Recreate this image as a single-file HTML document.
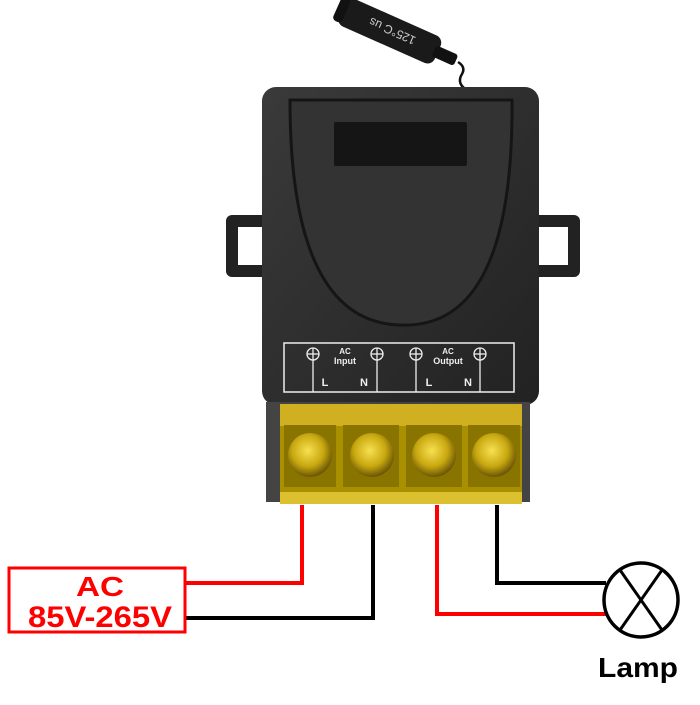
<!DOCTYPE html>
<html><head><meta charset="utf-8"><style>
body{margin:0;background:#fff;width:700px;height:700px;overflow:hidden}
</style></head><body>
<svg width="700" height="700" viewBox="0 0 700 700" xmlns="http://www.w3.org/2000/svg" font-family="Liberation Sans, sans-serif">
<defs>
<linearGradient id="bd" x1="0" y1="0" x2="1" y2="1"><stop offset="0" stop-color="#3a3a3a"/><stop offset="1" stop-color="#222"/></linearGradient>
<radialGradient id="sc" cx="0.45" cy="0.4" r="0.6"><stop offset="0" stop-color="#f8e050"/><stop offset="0.6" stop-color="#c8a810"/><stop offset="1" stop-color="#6a5505"/></radialGradient>
</defs>
<!-- antenna -->
<path d="M458 62 q8 5 4 12 q-5 8 2 14" stroke="#111" stroke-width="2.5" fill="none"/>
<g transform="translate(392,32) rotate(24)">
<rect x="-55" y="-15" width="105" height="30" rx="8" fill="#1a1a1a"/>
<rect x="-60" y="-13" width="10" height="26" rx="4" fill="#111"/>
<rect x="46" y="-6" width="24" height="12" rx="3" fill="#111"/>
<text x="0" y="5" font-size="12" fill="#ccc" text-anchor="middle" transform="rotate(180)">125°C  us</text>
</g>
<!-- ears -->
<rect x="226" y="215" width="42" height="62" rx="6" fill="#222"/>
<rect x="238" y="227" width="26" height="38" fill="#fff"/>
<rect x="532" y="215" width="48" height="62" rx="6" fill="#222"/>
<rect x="536" y="227" width="32" height="38" fill="#fff"/>
<!-- body -->
<rect x="262" y="87" width="277" height="318" rx="14" fill="url(#bd)"/>
<path d="M290 100 L512 100 Q514 330 400 325 Q290 322 290 100 Z" fill="#333" stroke="#151515" stroke-width="3"/>
<rect x="334" y="122" width="133" height="44" rx="2" fill="#151515"/>
<!-- label panel -->
<rect x="284" y="343" width="230" height="49" fill="none" stroke="#eee" stroke-width="1.5"/>
<g stroke="#eee" stroke-width="1.3" fill="none">
<circle cx="313" cy="354" r="6"/><line x1="307" y1="354" x2="319" y2="354"/><line x1="313" y1="348" x2="313" y2="392"/>
<circle cx="377" cy="354" r="6"/><line x1="371" y1="354" x2="383" y2="354"/><line x1="377" y1="348" x2="377" y2="392"/>
<circle cx="416" cy="354" r="6"/><line x1="410" y1="354" x2="422" y2="354"/><line x1="416" y1="348" x2="416" y2="392"/>
<circle cx="480" cy="354" r="6"/><line x1="474" y1="354" x2="486" y2="354"/><line x1="480" y1="348" x2="480" y2="392"/>
</g>
<g fill="#eee" font-weight="bold" text-anchor="middle">
<text x="345" y="354" font-size="8">AC</text><text x="345" y="364" font-size="9">Input</text>
<text x="448" y="354" font-size="8">AC</text><text x="448" y="364" font-size="9">Output</text>
<text x="325" y="386" font-size="11">L</text><text x="364" y="386" font-size="11">N</text>
<text x="429" y="386" font-size="11">L</text><text x="468" y="386" font-size="11">N</text>
</g>
<!-- terminal block -->
<rect x="266" y="402" width="264" height="100" fill="#444"/>
<rect x="280" y="404" width="242" height="100" fill="#a89000"/>
<rect x="280" y="404" width="242" height="22" fill="#d0b020"/>
<rect x="280" y="492" width="242" height="12" fill="#dcc030"/>
<g>
<rect x="284" y="425" width="52" height="62" fill="#8a7400"/>
<rect x="343" y="425" width="56" height="62" fill="#8a7400"/>
<rect x="406" y="425" width="56" height="62" fill="#8a7400"/>
<rect x="468" y="425" width="52" height="62" fill="#8a7400"/>
<circle cx="310" cy="455" r="22" fill="url(#sc)"/>
<circle cx="372" cy="455" r="22" fill="url(#sc)"/>
<circle cx="434" cy="455" r="22" fill="url(#sc)"/>
<circle cx="494" cy="455" r="22" fill="url(#sc)"/>
</g>
<!-- wires -->
<polyline points="302,505 302,583 186,583" fill="none" stroke="#f00" stroke-width="4"/>
<polyline points="373,505 373,618 186,618" fill="none" stroke="#000" stroke-width="4"/>
<polyline points="437,505 437,614 606,614" fill="none" stroke="#f00" stroke-width="4"/>
<polyline points="497,505 497,583 606,583" fill="none" stroke="#000" stroke-width="4"/>
<!-- AC box -->
<rect x="9" y="568" width="176" height="64" fill="#fff" stroke="#f00" stroke-width="3"/>
<text x="100" y="596" font-size="28" font-weight="bold" fill="#f00" text-anchor="middle" textLength="48" lengthAdjust="spacingAndGlyphs">AC</text>
<text x="100" y="627" font-size="30" font-weight="bold" fill="#f00" text-anchor="middle" textLength="144" lengthAdjust="spacingAndGlyphs">85V-265V</text>
<!-- lamp -->
<circle cx="641" cy="600" r="37" fill="#fff" stroke="#000" stroke-width="3.5"/>
<line x1="620" y1="570" x2="662" y2="630" stroke="#000" stroke-width="3"/>
<line x1="662" y1="570" x2="620" y2="630" stroke="#000" stroke-width="3"/>
<text x="638" y="677" font-size="28" font-weight="bold" fill="#000" text-anchor="middle" textLength="80" lengthAdjust="spacingAndGlyphs">Lamp</text>
</svg>
</body></html>
